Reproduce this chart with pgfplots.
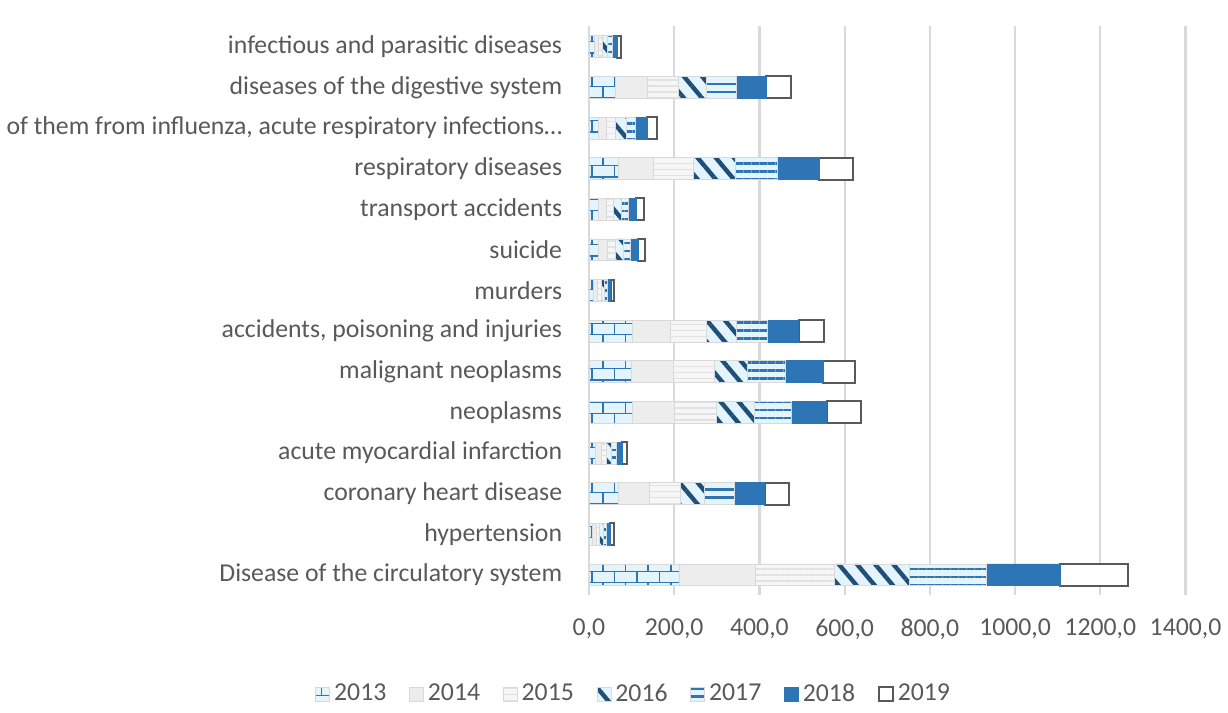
\documentclass[border=0pt]{standalone}
\usepackage{pgfplots}
\pgfplotsset{compat=1.18}
\usepackage{pgfplotstable}
\usetikzlibrary{patterns,patterns.meta}
\usepackage{fontspec}
\setmainfont{Carlito}
\definecolor{txt}{HTML}{595959}
\definecolor{blueA}{HTML}{2E75B6}
\definecolor{blueD}{HTML}{1F4E79}
\definecolor{cyanL}{HTML}{E3F4FC}
\definecolor{grayA}{HTML}{EDEDED}
\definecolor{grayB}{HTML}{F6F6F6}
\definecolor{grayC}{HTML}{E2E2E2}
\definecolor{gridc}{HTML}{D9D9D9}

\pgfplotstableread{
idx a2013 a2014 a2015 a2016 a2017 a2018 a2019
0  213 178 184 178 180 173 158
1  9   8   8   8   8   9   8
2  70  72  72  58  70  70  58
3  15  13  13  12  12  13  12
4  102 99  99  88  86  84  81
5  100 97  97  78  88  90  75
6  102 88  86  70  72  74  60
7  10  9   9   8   8   7   7
8  23  20  19  18  18  18  16
9  22  18  18  18  17  18  17
10 70  80  95  98  100 97  80
11 22  20  20  25  22  28  23
12 63  73  73  67  70  70  58
13 12  10  10  11  11  12  10
}\data

\begin{document}
\begin{tikzpicture}
\begin{axis}[
  scale only axis,
  width=300bp, height=286bp,
  xbar stacked,
  bar width=11bp,
  xmin=0, xmax=1400,
  ymin=-0.5, ymax=13.5,
  xtick={0,200,...,1400},
  ytick={0,...,13},
  yticklabels={Disease of the circulatory system, hypertension, coronary heart disease, acute myocardial infarction, neoplasms, malignant neoplasms, {accidents, poisoning and injuries}, murders, suicide, transport accidents, respiratory diseases, {of them from influenza, acute respiratory infections…}, diseases of the digestive system, infectious and parasitic diseases},
  /pgf/number format/.cd, fixed, fixed zerofill, precision=1, use comma, 1000 sep={}, assume math mode=true,
  /pgfplots/.cd,
  ticklabel style={font=\fontsize{13}{15}\selectfont, text=txt},
  xticklabel style={yshift=-8.5bp},
  yticklabel style={xshift=-10bp},
  major tick length=0pt,
  axis line style={draw=none},
  xmajorgrids,
  grid style={color=gridc, line width=1.1pt},
  clip=false,
  legend columns=7,
  legend style={at={(rel axis cs:0.0767,-0.174)}, anchor=center, draw=none, fill=none,
    font=\fontsize{13}{15}\selectfont, text=txt,
    /tikz/every even column/.append style={column sep=9.5bp}},
  legend image code/.code={\draw[#1] (0bp,-3.5bp) rectangle (7bp,3.5bp);},
]
\addplot[fill=cyanL, draw=gridc, postaction={pattern=bricks, pattern color=blueA}] table[x=a2013, y=idx] {\data};
\addplot[fill=grayA, draw=gridc] table[x=a2014, y=idx] {\data};
\addplot[fill=grayB, draw=gridc, postaction={pattern={Lines[angle=0,distance=3bp,line width=0.7bp]}, pattern color=grayC}] table[x=a2015, y=idx] {\data};
\addplot[fill=cyanL, draw=gridc, postaction={pattern={Lines[angle=-50,distance=7bp,line width=2.2bp]}, pattern color=blueD}] table[x=a2016, y=idx] {\data};
\addplot[fill=cyanL, draw=gridc, postaction={pattern={Lines[angle=0,distance=4bp,line width=1.3bp]}, pattern color=blueA}] table[x=a2017, y=idx] {\data};
\addplot[fill=blueA, draw=blueA] table[x=a2018, y=idx] {\data};
\addplot[fill=white, draw=txt, line width=1pt] table[x=a2019, y=idx] {\data};
\legend{2013,2014,2015,2016,2017,2018,2019}
\path (rel axis cs:-0.9833,-0.1843) rectangle (rel axis cs:1.0633,1.0465);
\end{axis}
\end{tikzpicture}
\end{document}
